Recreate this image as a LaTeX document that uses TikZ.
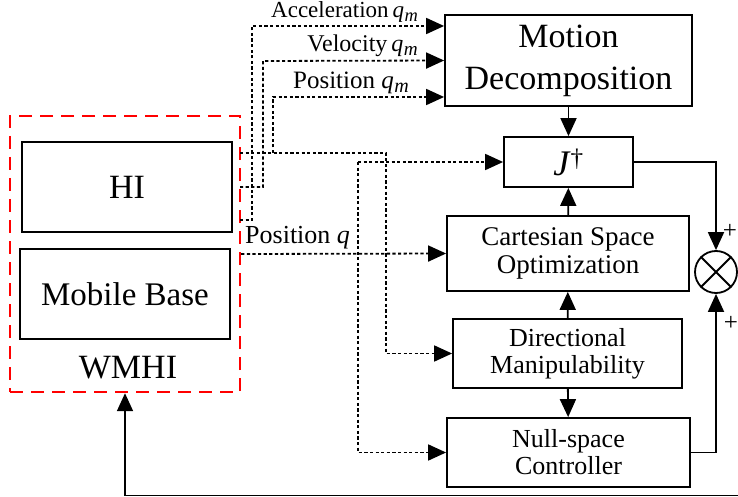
\documentclass[tikz,border=0pt]{standalone}
\usepackage{fontspec}
\setmainfont{Liberation Serif}
\usetikzlibrary{arrows.meta}
% italic symbol with a large italic subscript, as q_m
\newcommand{\qsym}[1]{\textit{q}\kern0.5pt\raisebox{-0.3ex}{\scalebox{0.8}{\textit{#1}}}}

\begin{document}
\begin{tikzpicture}[x=1pt, y=-1pt,
  block/.style={draw, line width=1.8pt, align=center, inner sep=0pt},
  flow/.style={line width=1.8pt, -{Triangle[length=18pt,width=16pt]}},
  sig/.style={flow, dash pattern=on 3.2pt off 2.4pt},
  lbl/.style={inner sep=0pt}
]
\useasboundingbox (0,0) rectangle (738,497);

% wheeled mobile haptic interface
\node[draw=red, line width=2.4pt, dash pattern=on 13pt off 8pt,
      minimum width=230pt, minimum height=276pt] (wmhi) at (125,254) {};
\node[block, minimum width=210pt, minimum height=90pt,
      font=\fontsize{34}{38}\selectfont] (hi) at (127,187) {HI};
\node[block, minimum width=210pt, minimum height=90pt,
      font=\fontsize{33}{38}\selectfont] (base) at (125,294) {Mobile Base};
\node[anchor=base, inner sep=0pt, font=\fontsize{34}{38}\selectfont] (wlbl) at (128,378) {WMHI};

% controller blocks
\node[block, minimum width=247pt, minimum height=91pt,
      font=\fontsize{34}{42}\selectfont] (motion) at (568.5,60.5) {Motion\\Decomposition};
\node[block, minimum width=129pt, minimum height=50pt,
      font=\fontsize{36}{38}\selectfont] (jdag) at (568.5,162) {\textit{J}\textsuperscript{†}};
\node[block, minimum width=242pt, minimum height=75pt,
      font=\fontsize{27}{28}\selectfont] (cart) at (568,253.5) {Cartesian Space\\Optimization};
\node[block, minimum width=229pt, minimum height=69pt,
      font=\fontsize{26}{27}\selectfont] (dirm) at (567.5,353.5) {Directional\\Manipulability};
\node[block, minimum width=243pt, minimum height=69pt,
      font=\fontsize{26}{27}\selectfont] (nulls) at (568.5,452.5) {Null-space\\Controller};

% summing junction
\node[draw, circle, line width=1.8pt, minimum size=42pt, inner sep=0pt] (sum) at (716,272) {};
\draw[line width=1.8pt] (sum.north west) -- (sum.south east)
                        (sum.north east) -- (sum.south west);
\node[lbl, font=\fontsize{25}{26}\selectfont] (plusa) at (730,231) {+};
\node[lbl, font=\fontsize{25}{26}\selectfont] (plusb) at (731,323) {+};

% solid connections
\draw[flow] (motion) -- (jdag);
\draw[flow] (cart) -- (jdag);
\draw[flow] (dirm) -- (cart);
\draw[flow] (dirm) -- (nulls);
\draw[flow] (jdag.east) -| (sum.north);
\draw[flow] (nulls.east) -| (sum.south);
\coordinate (fb) at (738,495.5);
\draw[flow] (fb) -| (wmhi.south);

% measured signals out of the interface
\coordinate (acc) at (240,220);
\coordinate (vel) at (240,187);
\coordinate (pm) at (240,153);
\coordinate (pmb) at (273,153);
\coordinate (jn) at (358,162);
\draw[sig] (acc) -| (252,26) -- ([yshift=34.5pt]motion.west);
\draw[sig] (vel) -| (263,61) -- (motion.west);
\draw[sig] (pm) -| ([xshift=-66pt]dirm.west) -- (dirm.west);
\draw[sig] (pmb) |- ([yshift=-36.5pt]motion.west);
\draw[sig] (jn) -- (jdag.west);
\draw[sig] (jn) |- (nulls.west);
\draw[sig] (wmhi.east) -- (cart.west);

\node[lbl, anchor=base east, font=\fontsize{23}{24}\selectfont] (lacc) at (418,18) {Acceleration\,\qsym{m}};
\node[lbl, anchor=base east, font=\fontsize{24}{25}\selectfont] (lvel) at (418,52) {Velocity\,\qsym{m}};
\node[lbl, anchor=base east, font=\fontsize{25}{26}\selectfont] (lpm) at (409,89) {Position \qsym{m}};
\node[lbl, anchor=base west, font=\fontsize{26}{27}\selectfont] (lpq) at (245,243) {Position \textit{q}};
\end{tikzpicture}
\end{document}
